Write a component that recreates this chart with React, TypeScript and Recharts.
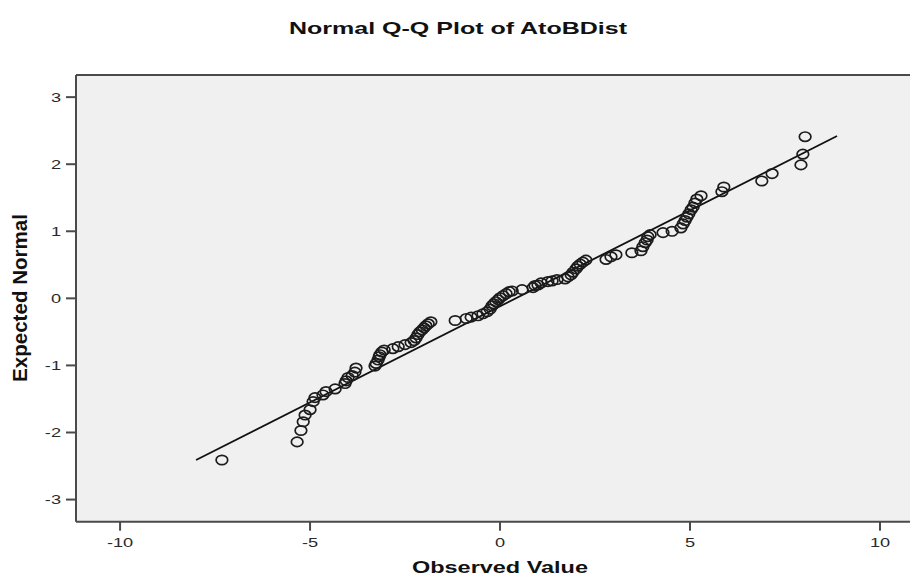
import { ScatterChart, Scatter, XAxis, YAxis, CartesianGrid, ReferenceLine, Customized } from "recharts";

const observed = [
  -7.32, -5.34, -5.24, -5.18, -5.13, -5.0, -4.92, -4.87, -4.66, -4.58, -4.34, -4.08, -4.05, -4.0, -3.89, -3.82, -3.79,
  -3.29, -3.26, -3.21, -3.18, -3.16, -3.11, -3.05, -2.82, -2.68, -2.5,
  -2.34, -2.26, -2.21, -2.16, -2.11, -2.05, -2.0, -1.95, -1.89, -1.82,
  -1.18, -0.89, -0.76, -0.58, -0.45,
  -0.34, -0.26, -0.21, -0.16, -0.11, -0.05, 0.0, 0.08, 0.16, 0.24, 0.32, 0.58,
  0.87, 0.92, 1.0, 1.08, 1.26, 1.37, 1.5, 1.71,
  1.79, 1.87, 1.92, 2.0, 2.05, 2.11, 2.18, 2.26,
  2.79, 2.92, 3.05, 3.47,
  3.71, 3.76, 3.82, 3.87, 3.89, 3.95, 4.29, 4.53,
  4.76, 4.82, 4.87, 4.92, 4.97, 5.03, 5.08, 5.13, 5.18, 5.29,
  5.84, 5.89, 6.89, 7.16, 7.92, 7.97, 8.03,
];

const expected = [
  -2.41, -2.14, -1.97, -1.84, -1.74, -1.66, -1.54, -1.48, -1.44, -1.39, -1.35, -1.27, -1.23, -1.18, -1.15, -1.1, -1.04,
  -1.01, -0.97, -0.92, -0.87, -0.84, -0.8, -0.77, -0.75, -0.72, -0.69,
  -0.66, -0.63, -0.59, -0.54, -0.5, -0.47, -0.44, -0.41, -0.38, -0.35,
  -0.33, -0.3, -0.28, -0.26, -0.23,
  -0.2, -0.16, -0.11, -0.08, -0.05, -0.02, 0.01, 0.04, 0.07, 0.1, 0.11, 0.13,
  0.16, 0.19, 0.2, 0.23, 0.25, 0.26, 0.28, 0.29,
  0.32, 0.35, 0.39, 0.44, 0.48, 0.51, 0.54, 0.57,
  0.58, 0.62, 0.65, 0.68,
  0.71, 0.77, 0.83, 0.87, 0.92, 0.95, 0.98, 1.0,
  1.05, 1.11, 1.16, 1.21, 1.26, 1.32, 1.36, 1.42, 1.48, 1.53,
  1.59, 1.66, 1.75, 1.86, 1.99, 2.15, 2.41,
];

const fitX = [-8.0, 8.87];
const fitY = [-2.41, 2.42];

const xTicks = [-10, -5, 0, 5, 10];
const yTicks = [-3, -2, -1, 0, 1, 2, 3];

const points = observed.map((x, i) => ({ x, y: expected[i] }));

const FONT = "Arial, 'Liberation Sans', sans-serif";
const STRETCH = 1.4; // the original image is squeezed wider than tall
const AXIS = "#4a4a4a";

const Ring = (props: any) => (
  <ellipse cx={props.cx} cy={props.cy} rx={5.8} ry={4.7} fill="none" stroke="#1c1c1c" strokeWidth={1.7} />
);

const XTick = ({ x, y, payload }: any) => (
  <text
    transform={`translate(${x},${y + 14}) scale(${STRETCH},1)`}
    textAnchor="middle"
    fontFamily={FONT}
    fontSize={13}
    fill="#2a2a2a"
  >
    {payload.value}
  </text>
);

const YTick = ({ x, y, payload }: any) => (
  <text
    transform={`translate(${x - 3},${y + 4.7}) scale(${STRETCH},1)`}
    textAnchor="end"
    fontFamily={FONT}
    fontSize={13}
    fill="#2a2a2a"
  >
    {payload.value}
  </text>
);

const Titles = () => (
  <g fontFamily={FONT} fontWeight="bold" fill="#111">
    <text x={458} y={34} textAnchor="middle" fontSize={17} textLength={338} lengthAdjust="spacingAndGlyphs">
      Normal Q-Q Plot of AtoBDist
    </text>
    <text x={500} y={573} textAnchor="middle" fontSize={17} textLength={176} lengthAdjust="spacingAndGlyphs">
      Observed Value
    </text>
    <g transform={`translate(27,298) scale(${STRETCH},1) rotate(-90)`}>
      <text x={0} y={0} textAnchor="middle" fontSize={15} textLength={168} lengthAdjust="spacingAndGlyphs">
        Expected Normal
      </text>
    </g>
  </g>
);

export default function App() {
  return (
    <div style={{ width: 910, height: 581, background: "#fff" }}>
      <style>{"body{margin:0}"}</style>
      <ScatterChart width={910} height={581} margin={{ top: 75, right: 0, bottom: 0, left: 0 }}>
        <CartesianGrid fill="#f0f0f0" horizontal={false} vertical={false} />
        <XAxis
          type="number"
          dataKey="x"
          domain={[-11.16, 10.79]}
          ticks={xTicks}
          height={59.3}
          tickSize={9}
          tick={<XTick />}
          axisLine={{ stroke: AXIS, strokeWidth: 2 }}
          tickLine={{ stroke: AXIS, strokeWidth: 2 }}
          allowDataOverflow
        />
        <YAxis
          type="number"
          dataKey="y"
          domain={[-3.33, 3.33]}
          ticks={yTicks}
          width={76}
          tickSize={10}
          tick={<YTick />}
          axisLine={{ stroke: AXIS, strokeWidth: 2 }}
          tickLine={{ stroke: AXIS, strokeWidth: 2 }}
          allowDataOverflow
        />
        <ReferenceLine y={3.33} stroke={AXIS} strokeWidth={2} ifOverflow="extendDomain" />
        <ReferenceLine
          segment={[
            { x: fitX[0], y: fitY[0] },
            { x: fitX[1], y: fitY[1] },
          ]}
          stroke="#111"
          strokeWidth={1.8}
        />
        <Scatter data={points} shape={<Ring />} isAnimationActive={false} />
        <Customized component={<Titles />} />
      </ScatterChart>
    </div>
  );
}
